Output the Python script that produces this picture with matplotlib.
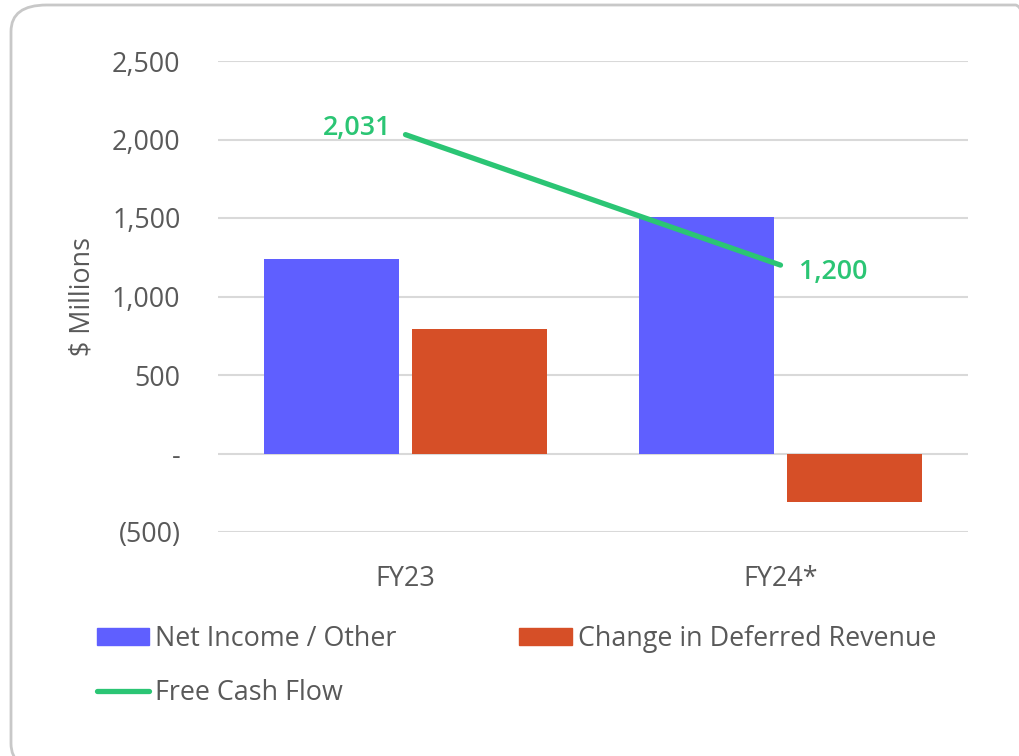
import matplotlib.pyplot as plt
from matplotlib.patches import FancyBboxPatch, Patch
from matplotlib.lines import Line2D
import numpy as np

# Data
categories = ['FY23', 'FY24*']
net_income = [1241, 1506]
deferred_rev = [790, -306]
free_cash_flow = [2031, 1200]
fcf_labels = ['2,031', '1,200']
y_ticks = [-500, 0, 500, 1000, 1500, 2000, 2500]
y_tick_labels = ['(500)', '-', '500', '1,000', '1,500', '2,000', '2,500']

blue = '#5f5fff'
orange = '#d64f27'
green = '#2bc574'
gray_text = '#595959'
fs = 19.4

plt.rcParams['font.family'] = ['Open Sans', 'DejaVu Sans']

fig = plt.figure(figsize=(10.19, 7.56), dpi=100)

# rounded frame around the chart
frame = FancyBboxPatch((11 / 1019, 1 - 770 / 756), 1040 / 1019, 765 / 756,
                       boxstyle='round,pad=0,rounding_size=0.035',
                       transform=fig.transFigure, facecolor='none',
                       edgecolor='#c8c8c8', linewidth=2, zorder=0)
fig.patches.append(frame)

ax = fig.add_axes([218 / 1019, 1 - 532 / 756, 750 / 1019, 471 / 756])
ax.set_facecolor('none')

x = np.arange(len(categories))
width = 0.36
offset = 0.198
ax.bar(x - offset, net_income, width, color=blue, zorder=2)
ax.bar(x + offset, deferred_rev, width, color=orange, zorder=2)
ax.plot(x, free_cash_flow, color=green, linewidth=3.8, solid_capstyle='round', zorder=3)

# data labels for free cash flow
ax.annotate(fcf_labels[0], (x[0], free_cash_flow[0]), xytext=(-10, 5),
            textcoords='offset points', ha='right', va='center',
            color=green, fontsize=fs, fontweight='semibold')
ax.annotate(fcf_labels[1], (x[1], free_cash_flow[1]), xytext=(13, -5),
            textcoords='offset points', ha='left', va='center',
            color=green, fontsize=fs, fontweight='semibold')

ax.set_xlim(-0.5, 1.5)
ax.set_ylim(-500, 2500)
ax.set_yticks(y_ticks)
ax.set_yticklabels(y_tick_labels)
ax.set_xticks(x)
ax.set_xticklabels(categories)
ax.tick_params(axis='both', length=0, labelsize=fs, labelcolor=gray_text)
ax.tick_params(axis='y', pad=27)
ax.tick_params(axis='x', pad=24)
ax.yaxis.grid(True, color='#d9d9d9', linewidth=1.5, zorder=0)
ax.set_axisbelow(True)
for s in ax.spines.values():
    s.set_visible(False)
ax.set_ylabel('$ Millions', fontsize=fs, color=gray_text, labelpad=11)

handles = [Patch(color=blue), Line2D([0], [0], color=green, linewidth=3.8, solid_capstyle='round'),
           Patch(color=orange)]
labels = ['Net Income / Other', 'Free Cash Flow', 'Change in Deferred Revenue']
leg = fig.legend(handles, labels, ncol=2, loc='upper left',
                 bbox_to_anchor=(86 / 1019, 1 - 614 / 756), frameon=False,
                 fontsize=fs, labelcolor=gray_text, handlelength=1.95,
                 handleheight=0.6, handletextpad=0.22, columnspacing=4.55,
                 labelspacing=0.98, borderaxespad=0)

fig.savefig('out.png', dpi=100)
